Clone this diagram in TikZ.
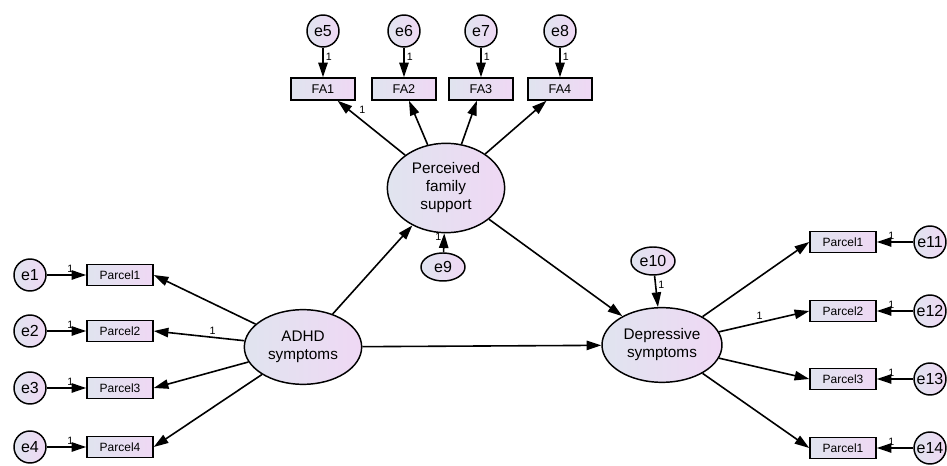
\documentclass[tikz,border=0pt]{standalone}
\usepackage{fontspec}
\setmainfont{Liberation Sans}
\usetikzlibrary{shapes.geometric,arrows.meta}
\definecolor{shadel}{RGB}{224,228,239}
\definecolor{shader}{RGB}{239,216,244}

\begin{document}
\begin{tikzpicture}[x=0.75pt,y=-0.75pt,
    latent/.style={ellipse,draw,line width=1.1pt,left color=shadel,right color=shader,
        inner sep=0pt,align=center,font=\fontsize{11.5}{13.5}\selectfont},
    errc/.style={circle,draw,line width=1.1pt,left color=shadel,right color=shader,
        inner sep=0pt,minimum size=24pt,font=\fontsize{12}{14}\selectfont},
    erre/.style={ellipse,draw,line width=1.1pt,left color=shadel,right color=shader,
        inner sep=0pt,minimum width=33pt,minimum height=21pt,font=\fontsize{12}{14}\selectfont},
    obs/.style={rectangle,draw,line width=1.1pt,left color=shadel,right color=shader,
        inner sep=0pt,minimum width=49.5pt,minimum height=15.75pt,font=\fontsize{9}{10}\selectfont},
    path/.style={-{Triangle[length=11pt,width=7pt]},line width=1.2pt},
    one/.style={font=\fontsize{8}{9}\selectfont,inner sep=1.5pt}]
    \useasboundingbox (0,0) rectangle (947,466);
    % latent variables
    \node[latent,minimum width=88pt,minimum height=67pt] (pfs) at (446,188) {Perceived\\family\\support};
    \node[latent,minimum width=88pt,minimum height=56pt] (adhd) at (303,347) {ADHD\\symptoms};
    \node[latent,minimum width=90pt,minimum height=56pt] (dep) at (662,345) {Depressive\\symptoms};
    \node[erre] (e9) at (443,267) {e9};
    \node[erre] (e10) at (653,261) {e10};
    % family support indicators
    \foreach \i/\x/\e in {1/323/5,2/404/6,3/481/7,4/560/8} {
        \node[errc] (e\e) at (\x,31) {e\e};
        \node[obs,minimum width=48pt,minimum height=16.5pt,font=\fontsize{9.5}{11}\selectfont] (fa\i) at (\x,89) {FA\i};
        \draw[path] (e\e) -- node[one,pos=0.3,right]{1} (fa\i);
    }
    \draw[path] (pfs) -- node[one,pos=0.72,above right]{1} (fa1);
    \foreach \i in {2,3,4}
        \draw[path] (pfs) -- (fa\i);
    % ADHD indicators
    \foreach \i/\y in {1/275,2/331,3/388,4/447} {
        \node[obs] (lp\i) at (120,\y) {Parcel\i};
        \node[errc] (e\i) at (30,\y) {e\i};
        \draw[path] (e\i) -- node[one,pos=0.6,above]{1} (lp\i);
    }
    \draw[path] (adhd) -- node[one,pos=0.35,above]{1} (lp2.east);
    \foreach \i in {1,3,4}
        \draw[path] (adhd) -- (lp\i.east);
    % depression indicators
    \foreach \e/\y/\t in {11/242/1,12/311/2,13/379/3,14/448/1} {
        \node[obs] (rp\e) at (843,\y) {Parcel\t};
        \node[errc] (e\e) at (930,\y) {e\e};
        \draw[path] (e\e) -- node[one,pos=0.6,above]{1} (rp\e);
    }
    \draw[path] (dep) -- node[one,pos=0.45,above]{1} (rp12.west);
    \foreach \e in {11,13,14}
        \draw[path] (dep) -- (rp\e.west);
    % structural paths
    \draw[path] (e9) -- node[one,pos=0.8,left]{1} (pfs);
    \draw[path] (e10) -- node[one,pos=0.3,right]{1} (dep);
    \draw[path] (adhd) -- (pfs);
    \draw[path] (adhd) -- (dep);
    \draw[path] (pfs) -- (dep);
\end{tikzpicture}
\end{document}
